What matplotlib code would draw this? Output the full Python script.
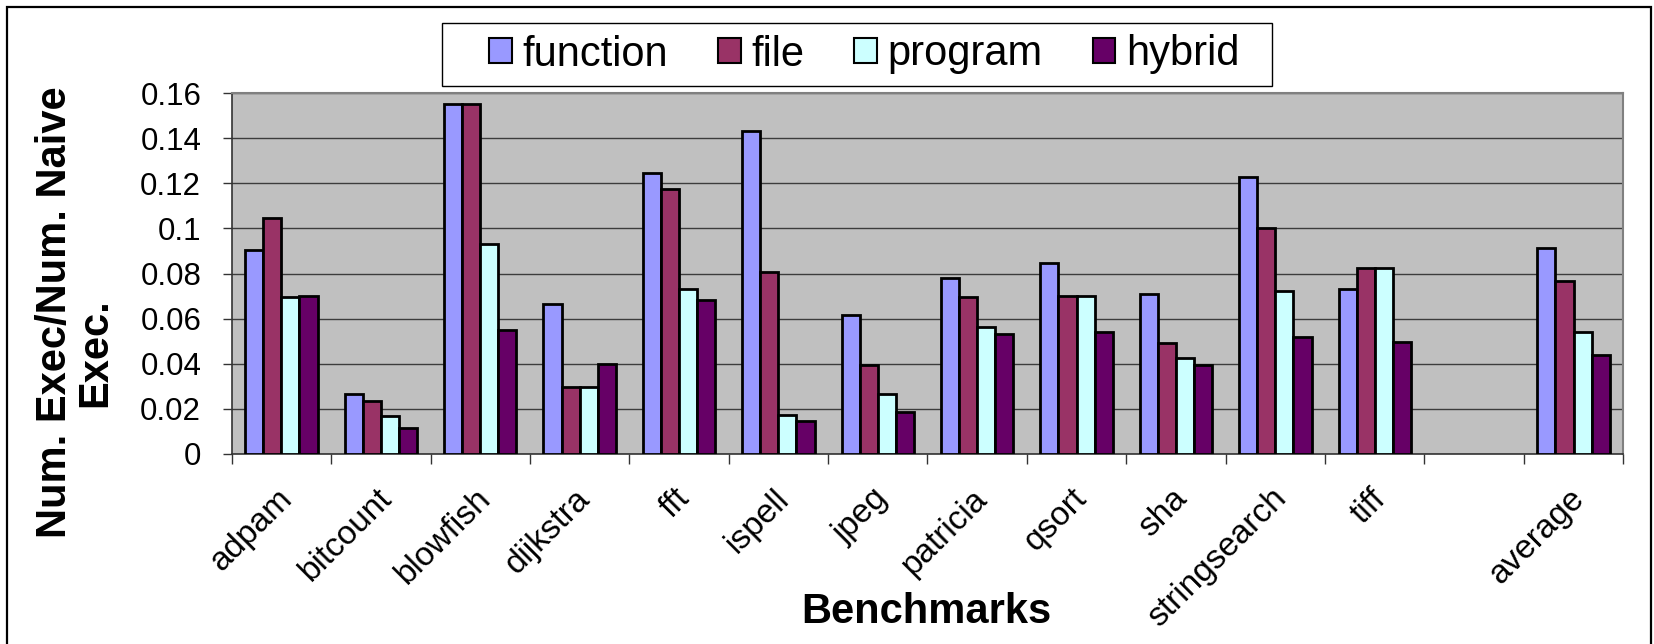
import numpy as np
import matplotlib
matplotlib.use("Agg")
import matplotlib.pyplot as plt
import matplotlib.transforms as mtransforms
from matplotlib.patches import Rectangle

plt.rcParams['font.family'] = ['Liberation Sans', 'DejaVu Sans']

# benchmark names (blank slot keeps a gap before the average group)
benchmarks = ["adpam", "bitcount", "blowfish", "dijkstra", "fft", "ispell", "jpeg",
              "patricia", "qsort", "sha", "stringsearch", "tiff", "", "average"]

# executions relative to the naive scheme, one list per granularity
function = [0.0905, 0.0266, 0.1554, 0.0665, 0.1248, 0.1434, 0.0616,
            0.0779, 0.0847, 0.0709, 0.1229, 0.0733, np.nan, 0.0915]
file = [0.1045, 0.0232, 0.1554, 0.0296, 0.1174, 0.0805, 0.0394,
        0.0694, 0.0702, 0.0491, 0.1004, 0.0826, np.nan, 0.0767]
program = [0.0696, 0.0167, 0.0933, 0.0296, 0.0732, 0.0172, 0.0266,
           0.0561, 0.0702, 0.0425, 0.0724, 0.0826, np.nan, 0.0542]
hybrid = [0.0702, 0.0115, 0.0551, 0.0400, 0.0681, 0.0147, 0.0187,
          0.0533, 0.0540, 0.0395, 0.0518, 0.0497, np.nan, 0.0438]

series = [("function", function, "#9999FF"),
          ("file", file, "#993366"),
          ("program", program, "#CCFFFF"),
          ("hybrid", hybrid, "#660066")]

yticks = [0, 0.02, 0.04, 0.06, 0.08, 0.1, 0.12, 0.14, 0.16]
ytick_labels = ["0", "0.02", "0.04", "0.06", "0.08", "0.1", "0.12", "0.14", "0.16"]

W, H = 1654, 644


def main():
    fig = plt.figure(figsize=(W / 100, H / 100), dpi=100)
    ax = fig.add_axes([0.1401, 0.2955, 0.8413, 0.5596])
    ax.set_facecolor("#C0C0C0")

    x = np.arange(len(benchmarks))
    width = 1 / 5.5  # 150% gap like the spreadsheet default
    handles = []
    for k, (name, vals, color) in enumerate(series):
        b = ax.bar(x + (k - 1.5) * width, vals, width, color=color,
                   edgecolor="black", linewidth=2.0, label=name, zorder=3)
        handles.append(b)

    ax.set_xlim(-0.5, len(benchmarks) - 0.5)
    ax.set_ylim(0, 0.16)
    ax.set_yticks(yticks)
    ax.set_yticklabels(ytick_labels, fontsize=22.5)
    ax.yaxis.grid(True, color="#3c3c3c", linewidth=1.0)
    ax.set_axisbelow(True)
    ax.tick_params(axis="y", direction="out", length=6.5, width=1.0, pad=15.5, color="#333333")

    # boundary ticks between groups, names centred under each group
    ax.set_xticks(np.arange(len(benchmarks) + 1) - 0.5)
    ax.set_xticklabels([])
    ax.set_xticks(x, minor=True)
    ax.set_xticklabels(benchmarks, minor=True, fontsize=24)
    ax.tick_params(axis="x", which="major", direction="out", length=7.5, width=1.0, color="#333333")
    ax.tick_params(axis="x", which="minor", length=0, pad=29)
    shift = mtransforms.ScaledTranslation(0.06, 0, fig.dpi_scale_trans)
    for lab in ax.get_xticklabels(minor=True):
        lab.set_rotation(45)
        lab.set_ha("right")
        lab.set_va("center")
        lab.set_rotation_mode("anchor")
        lab.set_transform(lab.get_transform() + shift)

    for side in ["top", "right"]:
        ax.spines[side].set_color("#808080")
        ax.spines[side].set_linewidth(1.5)
    for side in ["left", "bottom"]:
        ax.spines[side].set_color("#333333")
        ax.spines[side].set_linewidth(1.2)

    fig.text(926 / W, 1 - 612 / H, "Benchmarks", fontsize=30, fontweight="bold",
             ha="center", va="center")
    fig.text(55.5 / W, 1 - 312 / H, "Num. Exec/Num. Naive", fontsize=30,
             fontweight="bold", rotation=90, ha="center", va="center")
    fig.text(95.5 / W, 1 - 353 / H, "Exec.", fontsize=30,
             fontweight="bold", rotation=90, ha="center", va="center")

    # legend box drawn separately: wide side margins, tight top and bottom
    fig.patches.append(Rectangle((442 / W, 1 - 86 / H), 830 / W, 63 / H,
                                 transform=fig.transFigure, facecolor="white",
                                 edgecolor="black", linewidth=1.0, zorder=1))
    leg = fig.legend(handles=handles, loc="center", bbox_to_anchor=(864 / W, 1 - 54.5 / H),
                     ncol=4, fontsize=30, frameon=False,
                     handlelength=0.55, handleheight=0.55, handletextpad=0.25,
                     columnspacing=1.2, borderpad=0.2)
    leg.set_zorder(5)
    for h in leg.legend_handles:
        h.set_linewidth(1.5)

    # outer chart border
    fig.patches.append(Rectangle((7 / W, -0.05), 1644 / W, 1.05 - 7 / H,
                                 transform=fig.transFigure, fill=False,
                                 edgecolor="black", linewidth=1.6))

    fig.savefig("out.png", dpi=100)


if __name__ == "__main__":
    main()
